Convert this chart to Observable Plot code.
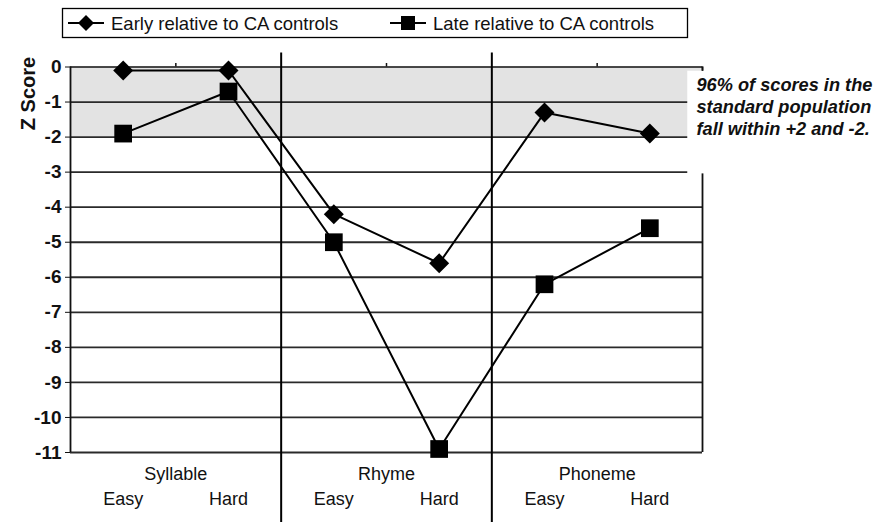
<!DOCTYPE html>
<html><head><meta charset="utf-8">
<script src="https://cdn.jsdelivr.net/npm/d3@7"></script>
<script src="https://cdn.jsdelivr.net/npm/@observablehq/plot@0.6"></script>
<style>
body{margin:0;background:#fff;font-family:"Liberation Sans",Arial,sans-serif;}
#legend{position:relative;height:45px;width:877px;}
#chart svg{overflow:visible;}
</style></head><body>
<div id="legend"></div>
<div id="chart"></div>
<script>
const conditions = ["Easy","Hard","Easy","Hard","Easy","Hard"];
const tasks = ["Syllable","Rhyme","Phoneme"];
const early = [-0.1,-0.1,-4.2,-5.6,-1.3,-1.9];
const late = [-1.9,-0.7,-5.0,-10.9,-6.2,-4.6];
const seriesNames = ["Early relative to CA controls","Late relative to CA controls"];
const yTicks = [0,-1,-2,-3,-4,-5,-6,-7,-8,-9,-10,-11];
const bandRange = [0,-2];
const annotation = "96% of scores in the\nstandard population\nfall within +2 and -2.";
const yLabel = "Z Score";

// Legend (above the SVG)
const lg = d3.select("#legend").append("svg").attr("width",877).attr("height",45)
  .style("position","absolute").style("left",0).style("top",0);
lg.append("rect").attr("x",62.5).attr("y",8.5).attr("width",625).attr("height",29)
  .attr("fill","#fff").attr("stroke","#000").attr("stroke-width",1.3);
const items = [{x:68,name:seriesNames[0],sym:"diamond"},{x:390,name:seriesNames[1],sym:"square"}];
items.forEach(it=>{
  lg.append("line").attr("x1",it.x).attr("x2",it.x+36).attr("y1",23).attr("y2",23).attr("stroke","#000").attr("stroke-width",2);
  const cx = it.x+18;
  if(it.sym==="diamond") lg.append("path").attr("d",`M${cx},${23-8}L${cx+8},23L${cx},${23+8}L${cx-8},23Z`).attr("fill","#000");
  else lg.append("rect").attr("x",cx-7).attr("y",16).attr("width",14).attr("height",14).attr("fill","#000");
  lg.append("text").attr("x",it.x+43).attr("y",29.5).attr("font-size",18.5).attr("fill","#111").text(it.name);
});

const pts = d3.range(6).map(i=>({x:i+0.5, early:early[i], late:late[i], cond:conditions[i]}));

const chart = Plot.plot({
  width:877, height:482,
  marginTop:21.5, marginBottom:75, marginLeft:70, marginRight:175,
  x:{domain:[0,6], axis:null},
  y:{domain:[-11,0]},
  style:{fontFamily:'"Liberation Sans",Arial,sans-serif', background:"transparent", overflow:"visible", color:"#111"},
  marks:[
    Plot.rect([bandRange], {x1:0, x2:6, y1:d=>d[0], y2:d=>d[1], fill:"#e3e3e3"}),
    Plot.ruleY(yTicks.filter(v=>v<0), {x1:0, x2:6, stroke:"#2a2a2a", strokeWidth:1.8}),
    Plot.ruleY([0], {x1:0, x2:6, stroke:"#111", strokeWidth:1.5}),
    Plot.ruleX([0], {y1:0, y2:-11, stroke:"#111", strokeWidth:1.8}),
    Plot.ruleX([6], {y1:0, y2:-11, stroke:"#111", strokeWidth:1.8}),
    Plot.ruleX([1,3,5], {y1:0, y2:0.1, stroke:"#111", strokeWidth:1.5}),
    Plot.ruleX([2,4], {y1:0.4, y2:-13, stroke:"#000", strokeWidth:2}),
    Plot.line(pts, {x:"x", y:"early", stroke:"#000", strokeWidth:2}),
    Plot.line(pts, {x:"x", y:"late", stroke:"#000", strokeWidth:2}),
    Plot.dot(pts, {x:"x", y:"early", symbol:"diamond2", r:9, fill:"#000", stroke:null}),
    Plot.dot(pts, {x:"x", y:"late", symbol:"square", r:10, fill:"#000", stroke:null}),
    Plot.rect([{}], {x1:5.86, x2:10, y1:-0.12, y2:-3.05, fill:"#fff"}),
    Plot.ruleX([6], {y1:0, y2:-0.12, stroke:"#111", strokeWidth:1.5}),
    Plot.text([annotation], {x:6, y:-1.11, dx:-6, textAnchor:"start", lineAnchor:"middle", lineHeight:1.22,
      fontSize:18.2, fontWeight:"bold", fontStyle:"italic", fill:"#111"}),
    Plot.axisY({ticks:yTicks, tickSize:5, tickPadding:4, fontWeight:"bold", fontSize:19, label:null, tickFormat:d=>String(d).replace("\u2212","-")}),
    Plot.text([yLabel], {frameAnchor:"top-left", textAnchor:"middle", dx:-50, dy:26.5, rotate:-90, fontSize:20, fontWeight:"bold", fill:"#111"}),
    Plot.text(tasks, {x:(d,i)=>2*i+1, y:-11, dy:22, fontSize:18, fill:"#111"}),
    Plot.text(pts, {x:"x", y:-11, dy:47, text:"cond", fontSize:18, fill:"#111"})
  ]
});
document.getElementById("chart").appendChild(chart);
</script>
</body></html>
